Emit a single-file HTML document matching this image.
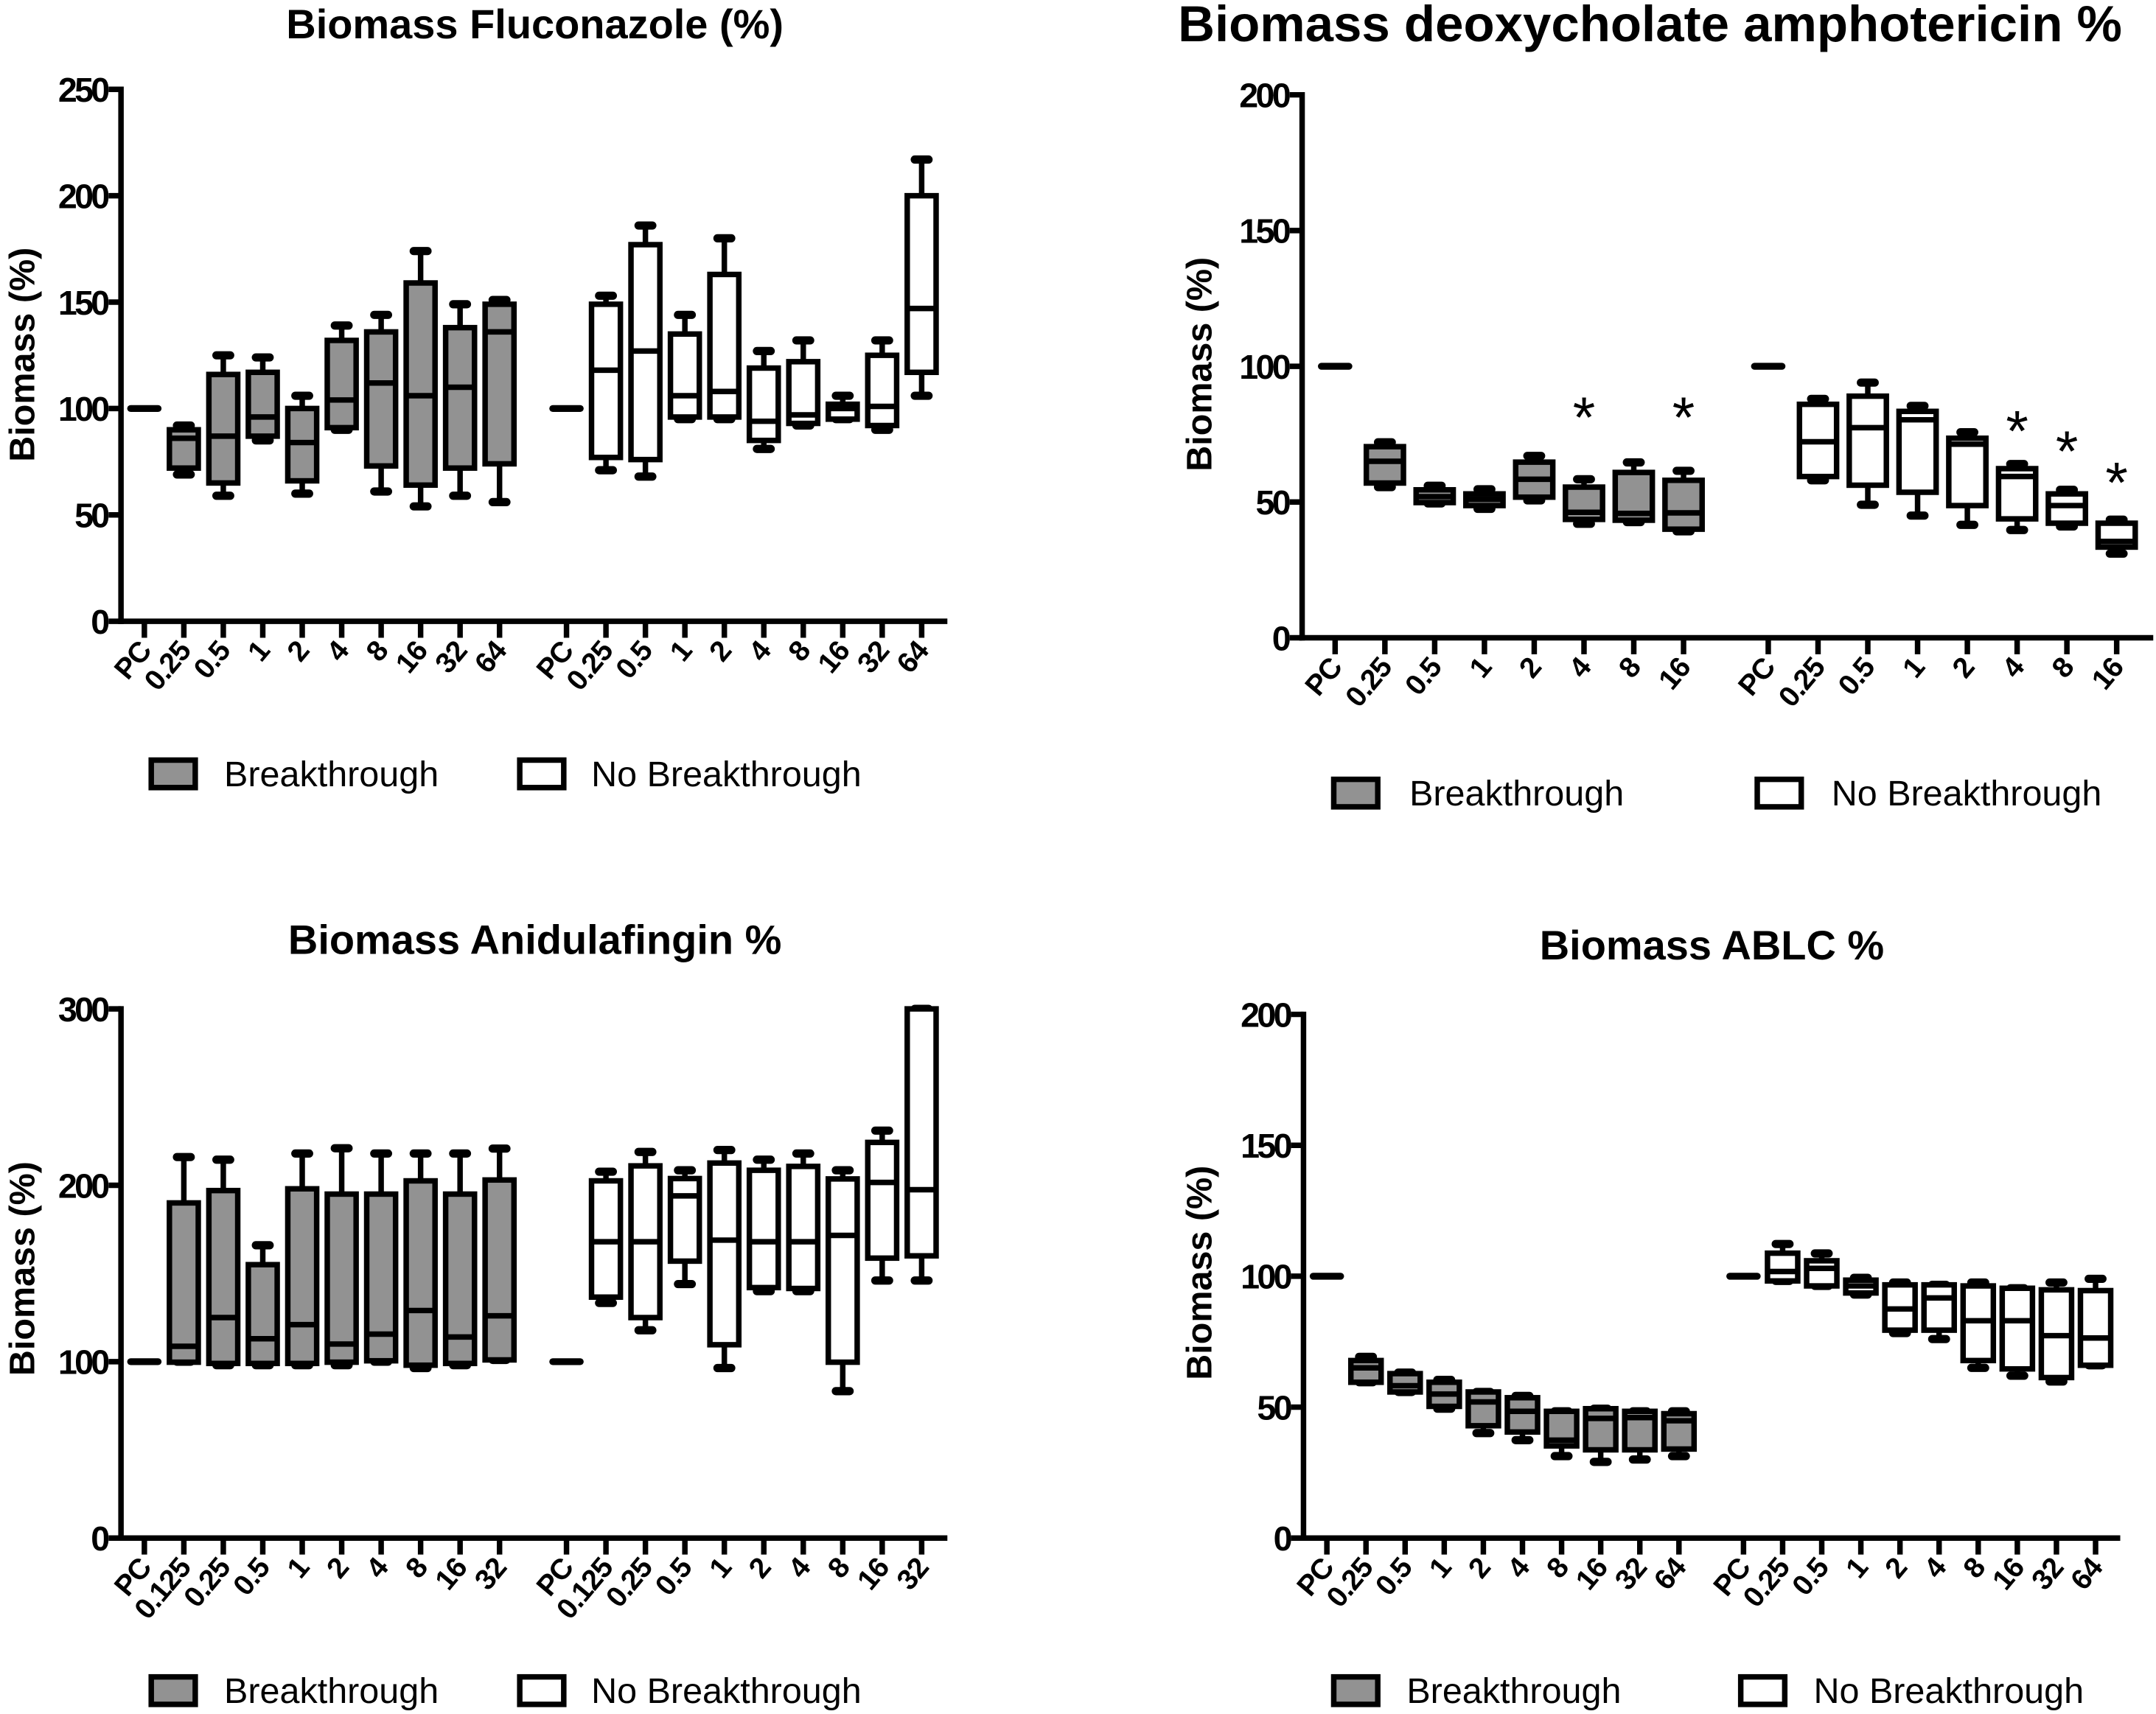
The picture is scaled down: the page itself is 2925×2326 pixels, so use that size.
<!DOCTYPE html>
<html><head><meta charset="utf-8"><style>
html,body{margin:0;padding:0;background:#fff;}
svg{display:block;}
text{font-family:"Liberation Sans",Arial,sans-serif;fill:#000;}
</style></head><body>
<svg id="fig" xmlns="http://www.w3.org/2000/svg" width="2925" height="2326" viewBox="0 0 1568 1247" preserveAspectRatio="none">
<rect width="1568" height="1247" fill="#fff"/>
</svg>
<script>
// ---------- Data ----------
const flucoCats = ["PC","0.25","0.5","1","2","4","8","16","32","64"];
const flucoBT = [[69,72,86,90,92],[59,65,87,116,125],[85,87,96,117,124],[60,66,84,100,106],[90,91,104,132,139],[61,73,112,136,144],[54,64,106,159,174],[59,72,110,138,149],[56,74,136,149,151]];
const flucoNB = [[71,77,118,149,153],[68,76,127,177,186],[95,96,106,135,144],[95,96,108,163,180],[81,85,94,119,127],[92,93,97,122,132],[95,95,100,102,106],[90,92,101,125,132],[106,117,147,200,217]];
const flucoTicks = [0,50,100,150,200,250];

const amphoCats = ["PC","0.25","0.5","1","2","4","8","16"];
const amphoBT = [[55.5,57,65,70.4,72],[49.5,49.8,52,54.5,56],[47.5,48.7,51,53,54.7],[50.6,51.8,58.4,64.7,67],[42,43.6,46.2,55.5,58.4],[42.6,43.3,45.8,60.9,64.6],[39.2,40,46,58,61.5]];
const amphoNB = [[58,59.4,72.2,86,88],[49,56.2,77.4,89,94],[45,53.6,80.3,83.4,85.4],[41.6,48.7,71.3,73.5,75.7],[39.7,43.8,59.4,62.3,64],[41,42.2,48.7,53,54.5],[31,33.4,35.5,42.2,43.5]];
const amphoTicks = [0,50,100,150,200];
const amphoStarBT = [5,7];
const amphoStarBTVal = [82,82];
const amphoStarNB = [5,6,7];
const amphoStarNBVal = [77,69.6,58];

const aniduCats = ["PC","0.125","0.25","0.5","1","2","4","8","16","32"];
const aniduBT = [[100,99.7,108.7,190,216],[98,99,125,197,214.5],[98,99,113,155,166],[98,99,121,198,218],[98,99.7,110,195,221],[100,100.5,115.6,195,218],[96.4,98,129,202.5,218],[98,99,114,195,218],[101,101,126,203,220.8]];
const aniduNB = [[133.3,136.6,168,202.5,207.7],[117.8,125,168,211,218.9],[144,157,194,203.8,208.5],[96.4,109.6,168.9,212.6,220],[140,142,168,208.5,214.5],[140,141.5,168,210.7,218],[83.3,99.7,171.6,203.6,208.5],[146,158.7,201.6,224.3,231],[146,160,197.5,300,300]];
const aniduTicks = [0,100,200,300];

const ablcCats = ["PC","0.25","0.5","1","2","4","8","16","32","64"];
const ablcBT = [[59.5,59.5,65,67.8,69.2],[55.8,55.8,58.2,62.8,63.2],[49.4,50.3,55,59.5,60.4],[40.1,42.9,52,55.8,55.8],[37.4,40.5,48.4,53.6,54.3],[31.3,35.2,37.4,48.4,48.4],[29.1,33.7,45.7,49.4,49.4],[30,33.7,46,48.4,48.4],[31.3,34,44.8,47.5,48.4]];
const ablcNB = [[98.2,98.2,101.8,108.8,112.3],[96.3,96.3,103,105.9,108.7],[93,93.6,96.3,98.5,99.4],[78.3,79.4,87.5,96.7,97.6],[76,79.4,91.7,96.7,96.7],[65,67.8,83,96.3,97.6],[62,64.6,83,95.4,95.4],[59.8,61.3,77.3,94.8,97.6],[66,66,76.4,94.5,99]];
const ablcTicks = [0,50,100,150,200];

const pcValue = 100;

// ---------- Drawing ----------
const NS = "http://www.w3.org/2000/svg";
const svg = document.getElementById('fig');
function mk(tag, attrs, parent){
  const e = document.createElementNS(NS, tag);
  for (const k in attrs) e.setAttribute(k, attrs[k]);
  (parent||svg).appendChild(e);
  return e;
}

function drawPanel(p){
  const g = mk('g', {});
  
  
  const y = v => p.y0 - (Math.min(v, p.ymax) / p.ymax) * (p.y0 - p.yTop);
  const x = (grp, i) => p.gx[grp] + i * p.step;

  const t = mk('text', {x:p.titleX, y:p.titleY, 'text-anchor':'middle', 'font-size':p.titleSize||30, 'font-weight':'bold'}, g);
  t.textContent = p.title;
  
  

  const yl = mk('text', {x:0, y:0, 'text-anchor':'middle', 'font-size':26, 'font-weight':'bold', transform:`translate(${p.ylabX},${p.ylabY}) rotate(-90)`}, g);
  yl.textContent = 'Biomass (%)';
  
  

  const ya = mk('line', {x1:p.ax, y1:p.yTop-2, x2:p.ax, y2:p.y0+2, stroke:'#000', 'stroke-width':4}, g);
  
  
  const xa = mk('line', {x1:p.ax-2, y1:p.y0, x2:p.axEnd, y2:p.y0, stroke:'#000', 'stroke-width':4}, g);
  
  

  p.ticks.forEach(v => {
    const tl = mk('line', {x1:p.ax-9, y1:y(v), x2:p.ax, y2:y(v), stroke:'#000', 'stroke-width':4}, g);
    
    
    const tx = mk('text', {x:p.ax-10, y:y(v)+9, 'text-anchor':'end', 'font-size':25, 'font-weight':'bold', 'letter-spacing':'-2'}, g);
    tx.textContent = v;
    
    
  });

  [0,1].forEach(grp => {
    const data = grp === 0 ? p.bt : p.nb;
    p.cats.forEach((c, i) => {
      const cx = x(grp, i);
      const tk = mk('line', {x1:cx, y1:p.y0, x2:cx, y2:p.y0+12, stroke:'#000', 'stroke-width':4}, g);
      
      
      const lb = mk('text', {x:0, y:0, 'text-anchor':'end', 'font-size':21, 'font-weight':'bold', 'letter-spacing':'-0.5', transform:`translate(${cx+6},${p.y0+22}) rotate(-50)`}, g);
      lb.textContent = c;
      
      
    });
    const pc = mk('line', {x1:x(grp,0)-10, y1:y(pcValue), x2:x(grp,0)+10, y2:y(pcValue), stroke:'#000', 'stroke-width':5, 'stroke-linecap':'round'}, g);
    
    
    data.forEach((d, j) => {
      const cx = x(grp, j+1);
      const [mn, q1, md, q3, mx] = d;
      const bg = mk('g', {}, g);
      
      
      const w = p.bw;
      mk('line', {x1:cx, y1:y(mx), x2:cx, y2:y(q3), stroke:'#000', 'stroke-width':4}, bg);
      mk('line', {x1:cx, y1:y(q1), x2:cx, y2:y(mn), stroke:'#000', 'stroke-width':4}, bg);
      mk('line', {x1:cx-5, y1:y(mx), x2:cx+5, y2:y(mx), stroke:'#000', 'stroke-width':6, 'stroke-linecap':'round'}, bg);
      mk('line', {x1:cx-5, y1:y(mn), x2:cx+5, y2:y(mn), stroke:'#000', 'stroke-width':6, 'stroke-linecap':'round'}, bg);
      mk('rect', {x:cx-w/2, y:y(q3), width:w, height:Math.max(1, y(q1)-y(q3)), fill: grp===0?'#929292':'#fff', stroke:'#000', 'stroke-width':4}, bg);
      mk('line', {x1:cx-w/2, y1:y(md), x2:cx+w/2, y2:y(md), stroke:'#000', 'stroke-width':4}, bg);
    });
  });

  if (p.stars) {
    p.stars.forEach(s => {
      s.idx.forEach((ci, k) => {
        const st = mk('text', {x:x(s.grp, ci), y:y(s.val[k])+16, 'text-anchor':'middle', 'font-size':42}, g);
        st.textContent = '*';
        
        
      });
    });
  }

  const lg = mk('g', {}, g);
  
  
  const l1 = mk('g', {}, lg);
  
  
  mk('rect', {x:p.leg[0]+2, y:p.legY-10, width:32, height:20, fill:'#929292', stroke:'#000', 'stroke-width':4}, l1);
  const lt1 = mk('text', {x:p.leg[1], y:p.legY+9, 'font-size':26}, l1);
  lt1.textContent = 'Breakthrough';
  const l2 = mk('g', {}, lg);
  
  
  mk('rect', {x:p.leg[2]+2, y:p.legY-10, width:32, height:20, fill:'#fff', stroke:'#000', 'stroke-width':4}, l2);
  const lt2 = mk('text', {x:p.leg[3], y:p.legY+9, 'font-size':26}, l2);
  lt2.textContent = 'No Breakthrough';
}

drawPanel({name:'fluconazole-panel', title:'Biomass Fluconazole (%)', titleX:389, titleY:28,
  ylabX:25, ylabY:258, ax:88, axEnd:689, y0:452, yTop:65, ymax:250, ticks:flucoTicks,
  gx:[105,412], step:28.7, bw:21, cats:flucoCats, bt:flucoBT, nb:flucoNB,
  leg:[108,163,376,430], legY:563});

drawPanel({name:'amphotericin-panel', title:'Biomass deoxycholate amphotericin %', titleX:1200, titleY:30, titleSize:37,
  ylabX:881, ylabY:265, ax:947, axEnd:1566, y0:464, yTop:69, ymax:200, ticks:amphoTicks,
  gx:[971,1286], step:36.2, bw:27, cats:amphoCats, bt:amphoBT, nb:amphoNB,
  stars:[{grp:0, idx:amphoStarBT, val:amphoStarBTVal},{grp:1, idx:amphoStarNB, val:amphoStarNBVal}],
  leg:[968,1025,1276,1332], legY:577});

drawPanel({name:'anidulafungin-panel', title:'Biomass Anidulafingin %', titleX:389, titleY:694,
  ylabX:25, ylabY:923, ax:88, axEnd:689, y0:1119, yTop:734, ymax:300, ticks:aniduTicks,
  gx:[105,412], step:28.7, bw:21, cats:aniduCats, bt:aniduBT, nb:aniduNB,
  leg:[108,163,376,430], legY:1230});

drawPanel({name:'ablc-panel', title:'Biomass ABLC %', titleX:1245, titleY:698,
  ylabX:881, ylabY:926, ax:948, axEnd:1542, y0:1119, yTop:738, ymax:200, ticks:ablcTicks,
  gx:[965,1268], step:28.45, bw:22, cats:ablcCats, bt:ablcBT, nb:ablcNB,
  leg:[968,1023,1264,1319], legY:1230});
</script>
</body></html>
